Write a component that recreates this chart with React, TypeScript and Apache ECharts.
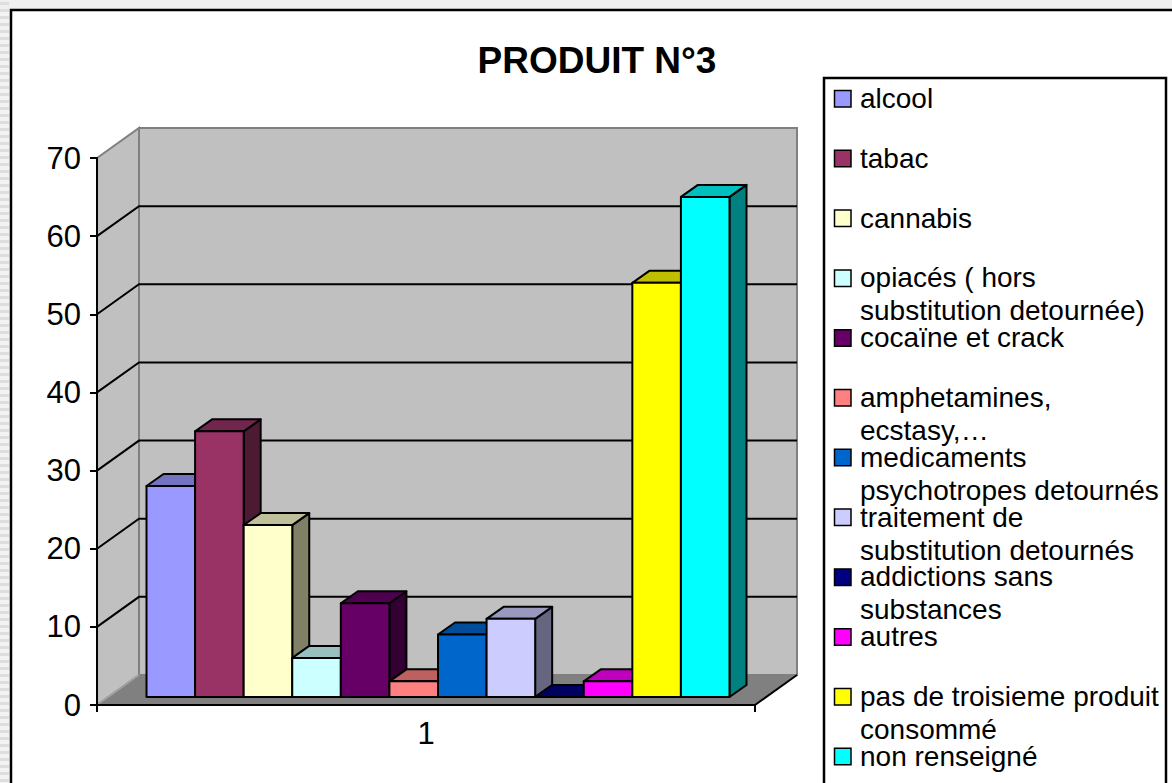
import React, { useEffect, useRef } from 'react';
import * as echarts from 'echarts';

const categories = ['1'];
const seriesNames = [
  'alcool',
  'tabac',
  'cannabis',
  'opiacés ( hors substitution detournée)',
  'cocaïne et crack',
  'amphetamines, ecstasy,…',
  'medicaments psychotropes detournés',
  'traitement de substitution detournés',
  'addictions sans substances',
  'autres',
  'pas de troisieme produit consommé',
  'non renseigné',
];
const legendLines = [
  ['alcool'],
  ['tabac'],
  ['cannabis'],
  ['opiacés ( hors', 'substitution detournée)'],
  ['cocaïne et crack'],
  ['amphetamines,', 'ecstasy,…'],
  ['medicaments', 'psychotropes detournés'],
  ['traitement de', 'substitution detournés'],
  ['addictions sans', 'substances'],
  ['autres'],
  ['pas de troisieme produit', 'consommé'],
  ['non renseigné'],
];
const values = [27, 34, 22, 5, 12, 2, 8, 10, 0, 2, 53, 64];
const colors = [
  '#9999ff', '#993366', '#ffffcc', '#ccffff', '#660066', '#ff8080',
  '#0066cc', '#ccccff', '#000080', '#ff00ff', '#ffff00', '#00ffff',
];
const yTicks = [0, 10, 20, 30, 40, 50, 60, 70];
const titleText = 'PRODUIT N°3';

const FONT = '"Liberation Sans", Arial, sans-serif';
// 3D geometry (pixels)
const WALL_DX = 42;
const WALL_DY = 30;
const BAR_OFF_X = 12;
const BAR_OFF_Y = 8;
const BAR_DX = 17;
const BAR_DY = 12;
const GROUP_FRAC = 0.886;

function shade(hex: string, f: number): string {
  const n = parseInt(hex.slice(1), 16);
  const r = Math.round(((n >> 16) & 255) * f);
  const g = Math.round(((n >> 8) & 255) * f);
  const b = Math.round((n & 255) * f);
  return 'rgb(' + r + ',' + g + ',' + b + ')';
}

export default function App() {
  const ref = useRef<HTMLDivElement>(null);

  useEffect(() => {
    if (!ref.current) return;
    const chart = echarts.init(ref.current, undefined, { renderer: 'svg' });
    const n = values.length;

    const wallSeries: any = {
      type: 'custom',
      name: '__walls',
      z: 1,
      silent: true,
      data: [[0, 0]],
      renderItem: (params: any, api: any) => {
        const cs = params.coordSys;
        const x = cs.x, y = cs.y, w = cs.width, h = cs.height;
        const bottom = y + h, right = x + w;
        const children: any[] = [];
        children.push({
          type: 'polygon',
          shape: { points: [[x, y], [x + WALL_DX, y - WALL_DY], [x + WALL_DX, bottom - WALL_DY], [x, bottom]] },
          style: { fill: '#c0c0c0', stroke: '#808080', lineWidth: 2 },
        });
        children.push({
          type: 'rect',
          shape: { x: x + WALL_DX, y: y - WALL_DY, width: w, height: h },
          style: { fill: '#c0c0c0', stroke: '#808080', lineWidth: 2 },
        });
        children.push({
          type: 'polygon',
          shape: { points: [[x, bottom], [x + WALL_DX, bottom - WALL_DY], [right + WALL_DX, bottom - WALL_DY], [right, bottom]] },
          style: { fill: '#808080', stroke: 'none' },
        });
        children.push({
          type: 'line',
          shape: { x1: x, y1: bottom, x2: x + WALL_DX, y2: bottom - WALL_DY },
          style: { stroke: '#a8a8a8', lineWidth: 1.5 },
        });
        children.push({
          type: 'line',
          shape: { x1: right, y1: bottom, x2: right + WALL_DX, y2: bottom - WALL_DY },
          style: { stroke: '#000', lineWidth: 2 },
        });
        yTicks.forEach((v) => {
          if (v === yTicks[0] || v === yTicks[yTicks.length - 1]) return;
          const p = api.coord([0, v]);
          const py = p[1];
          children.push({
            type: 'polyline',
            shape: { points: [[x, py], [x + WALL_DX, py - WALL_DY], [right + WALL_DX, py - WALL_DY]] },
            style: { stroke: '#000', lineWidth: 2, fill: 'none' },
          });
        });
        return { type: 'group', children };
      },
    };

    const barSeries = values.map((val, i) => ({
      type: 'custom',
      name: seriesNames[i],
      z: 3 + i,
      data: [[0, val]],
      itemStyle: { color: colors[i] },
      renderItem: (params: any, api: any) => {
        const top = api.coord([api.value(0), api.value(1)]);
        const base = api.coord([api.value(0), 0]);
        const band = api.size([1, 0])[0];
        const total = band * GROUP_FRAC;
        const bw = total / n;
        const x0 = top[0] - total / 2 + i * bw + BAR_OFF_X;
        const x1 = x0 + bw;
        const ty = top[1] - BAR_OFF_Y;
        const by = base[1] - BAR_OFF_Y;
        const stroke = { stroke: '#000', lineWidth: 2, lineJoin: 'round' };
        return {
          type: 'group',
          children: [
            {
              type: 'polygon',
              shape: { points: [[x1, ty], [x1 + BAR_DX, ty - BAR_DY], [x1 + BAR_DX, by - BAR_DY], [x1, by]] },
              style: { fill: shade(colors[i], 0.5), ...stroke },
            },
            {
              type: 'polygon',
              shape: { points: [[x0, ty], [x1, ty], [x1 + BAR_DX, ty - BAR_DY], [x0 + BAR_DX, ty - BAR_DY]] },
              style: { fill: shade(colors[i], 0.75), ...stroke },
            },
            {
              type: 'rect',
              shape: { x: x0, y: ty, width: bw, height: by - ty },
              style: { fill: colors[i], ...stroke },
            },
          ],
        };
      },
    }));

    // legend drawn as graphic elements from the names
    const legendX = 824;
    const legendTop = 78;
    const itemStart = 98.5;
    const itemStep = 59.8;
    const lineH = 33;
    const legendEls: any[] = [
      {
        type: 'rect',
        shape: { x: legendX, y: legendTop, width: 342, height: 760 },
        style: { fill: '#fff', stroke: '#000', lineWidth: 2.5 },
        z: 10,
      },
    ];
    legendLines.forEach((lines, i) => {
      const cy = itemStart + i * itemStep;
      legendEls.push({
        type: 'rect',
        shape: { x: 834.5, y: cy - 8, width: 16.5, height: 16.5 },
        style: { fill: colors[i], stroke: '#000', lineWidth: 1.5 },
        z: 11,
      });
      legendEls.push({
        type: 'text',
        x: 860,
        y: cy - lineH / 2,
        z: 11,
        style: {
          text: lines.join('\n'),
          fill: '#000',
          font: '28px ' + FONT,
          lineHeight: lineH,
          textAlign: 'left',
          textVerticalAlign: 'top',
          verticalAlign: 'top',
        },
      });
    });

    const stripes: any[] = [
      { type: 'rect', shape: { x: 0, y: 0, width: 10, height: 783 }, style: { fill: '#f3f3f3' }, z: 0 },
      { type: 'rect', shape: { x: 0, y: 0, width: 1172, height: 9 }, style: { fill: '#efefef' }, z: 0 },
    ];
    for (let sy = 2; sy < 783; sy += 7) {
      stripes.push({ type: 'rect', shape: { x: 0, y: sy, width: 9, height: 3 }, style: { fill: '#dedede' }, z: 0 });
    }

    chart.setOption({
      animation: false,
      backgroundColor: '#fff',
      grid: { left: 97, right: 417, top: 158, bottom: 78, containLabel: false },
      xAxis: {
        type: 'category',
        data: categories,
        z: 20,
        axisLine: { show: true, lineStyle: { color: '#000', width: 2 } },
        axisTick: { show: true, length: 7, lineStyle: { color: '#000', width: 2 } },
        axisLabel: { color: '#000', fontSize: 31, fontFamily: FONT, margin: 13 },
        splitLine: { show: false },
      },
      yAxis: {
        type: 'value',
        min: 0,
        max: 70,
        interval: 10,
        z: 20,
        axisLine: { show: true, lineStyle: { color: '#000', width: 2 } },
        axisTick: { show: true, length: 7, lineStyle: { color: '#000', width: 2 } },
        axisLabel: { color: '#000', fontSize: 31, fontFamily: FONT, margin: 16 },
        splitLine: { show: false },
      },
      graphic: [
        ...stripes,
        {
          type: 'rect',
          shape: { x: 11, y: 10, width: 1200, height: 820 },
          style: { fill: 'none', stroke: '#000', lineWidth: 2.5 },
          z: 10,
        },
        {
          type: 'text',
          x: 597,
          y: 60,
          z: 10,
          style: {
            text: titleText,
            fill: '#000',
            font: 'bold 37px ' + FONT,
            textAlign: 'center',
            textVerticalAlign: 'middle',
            verticalAlign: 'middle',
          },
        },
        ...legendEls,
      ],
      series: [wallSeries, ...barSeries],
    });

    return () => {
      chart.dispose();
    };
  }, []);

  return (
    <div
      ref={ref}
      style={{ position: 'fixed', left: 0, top: 0, width: 1172, height: 783 }}
    />
  );
}
